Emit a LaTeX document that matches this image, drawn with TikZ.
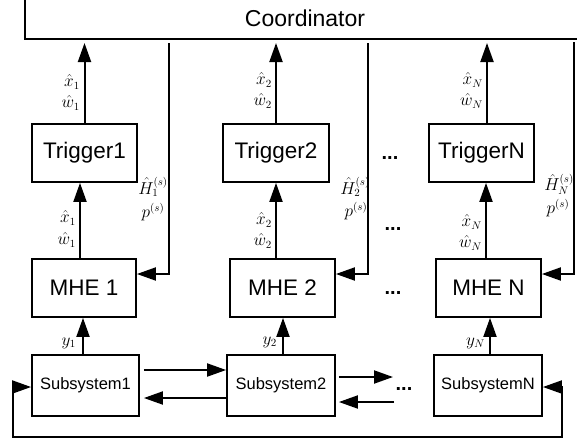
\documentclass[tikz,border=0pt]{standalone}
\usepackage{fontspec}
\setmainfont{Liberation Sans}
\usetikzlibrary{arrows.meta}
\begin{document}
\begin{tikzpicture}[x=1pt,y=-1pt,
  box/.style={draw, line width=1.8pt, inner sep=0pt, font=\fontsize{22.5}{27}\selectfont},
  trig/.style={box, minimum width=105pt, minimum height=58pt},
  mhe/.style={box, minimum width=105pt, minimum height=58pt},
  subbox/.style={box, minimum width=108pt, minimum height=61pt, font=\fontsize{16.5}{20}\selectfont},
  tip/.tip={Triangle[length=19pt,width=13pt]},
  arr/.style={line width=2pt, -tip},
  ln/.style={line width=2pt},
  lab/.style={font=\fontsize{16}{20}\selectfont, inner sep=0pt},
  dotsn/.style={font=\fontsize{20}{24}\selectfont\bfseries, inner sep=0pt}]
\useasboundingbox (0,0) rectangle (577,442);
\clip (0,0) rectangle (577,442);

% coordinator
\node[box, minimum width=560pt, minimum height=42pt, font=\fontsize{23}{28}\selectfont] (coord) at (305,18) {Coordinator};
\coordinate (cb) at (0,43);

% triggers
\node[trig] (t1) at (84.5,153) {Trigger1};
\node[trig, minimum width=106pt] (t2) at (276,153) {Trigger2};
\node[trig] (tN) at (481.5,153) {TriggerN};

% MHE
\node[mhe, minimum width=104pt] (m1) at (84,288) {MHE 1};
\node[mhe] (m2) at (282.5,288) {MHE 2};
\node[mhe] (mN) at (488.5,288) {MHE N};

% subsystems
\node[subbox, minimum width=107pt] (s1) at (85.5,385.5) {Subsystem1};
\node[subbox] (s2) at (281,385.5) {Subsystem2};
\node[subbox] (sN) at (488,385.5) {SubsystemN};

% trigger -> coordinator
\draw[arr] (t1.north) -- (t1.north |- cb);
\draw[arr] (t2.north) -- (t2.north |- cb);
\draw[arr] ([xshift=5.5pt]tN.north) -- ([xshift=5.5pt]tN.north |- cb);

% MHE -> trigger
\draw[arr] ([xshift=-4pt]m1.north) -- ([xshift=-4pt]m1.north |- t1.south);
\draw[arr] ([xshift=-6.5pt]m2.north) -- ([xshift=-6.5pt]m2.north |- t2.south);
\draw[arr] ([xshift=-2.5pt]mN.north) -- ([xshift=-2.5pt]mN.north |- tN.south);

% subsystem -> MHE
\draw[arr] ([xshift=-2.5pt]s1.north) -- ([xshift=-2.5pt]s1.north |- m1.south);
\draw[arr] ([xshift=2pt]s2.north) -- ([xshift=2pt]s2.north |- m2.south);
\draw[arr] ([xshift=2pt]sN.north) -- ([xshift=2pt]sN.north |- mN.south);

% coordinator feedback
\coordinate (f1) at (169,43);
\coordinate (f2) at (368,43);
\coordinate (fN) at (574,42);
\draw[arr] (f1) |- ([yshift=14pt]m1.east);
\draw[arr] (f2) |- ([yshift=14pt]m2.east);
\draw[arr] (fN) |- ([yshift=14pt]mN.east);

% subsystem interconnections
\draw[arr] ([shift={(4pt,15.5pt)}]s1.east) -- ([yshift=15.5pt]s2.west);
\draw[arr] ([yshift=-12.5pt]s2.west) -- ([shift={(4pt,-12.5pt)}]s1.east);
\coordinate (d1) at (393,377);
\coordinate (d2) at (394,402);
\draw[arr] ([shift={(3pt,8.5pt)}]s2.east) -- (d1);
\draw[arr] (d2) -- ([shift={(3pt,-16.5pt)}]s2.east);

% bottom loop
\coordinate (bl) at (13,437);
\coordinate (br) at (562,437);
\draw[ln, tip-tip] ([yshift=-1.5pt]s1.west) -| (bl) -- (br) |- ([yshift=-1.5pt]sN.east);

% labels (upper)
\node[lab, anchor=east] (lx1) at (80,82) {$\hat{x}_1$};
\node[lab, anchor=east] (lw1) at (80,103) {$\hat{w}_1$};
\node[lab, anchor=east] (lx2) at (272,80) {$\hat{x}_2$};
\node[lab, anchor=east] (lw2) at (272,101) {$\hat{w}_2$};
\node[lab, anchor=east] (lxN) at (483,80) {$\hat{x}_N$};
\node[lab, anchor=east] (lwN) at (483,101) {$\hat{w}_N$};
% labels (middle)
\node[lab, anchor=east] (mx1) at (76,218) {$\hat{x}_1$};
\node[lab, anchor=east] (mw1) at (76,240) {$\hat{w}_1$};
\node[lab, anchor=east] (mx2) at (272,220) {$\hat{x}_2$};
\node[lab, anchor=east] (mw2) at (272,241) {$\hat{w}_2$};
\node[lab, anchor=east] (mxN) at (482,222) {$\hat{x}_N$};
\node[lab, anchor=east] (mwN) at (482,243) {$\hat{w}_N$};
% measurement labels
\node[lab, anchor=east] (ly1) at (76,343) {$y_1$};
\node[lab, anchor=east] (ly2) at (277,342) {$y_2$};
\node[lab, anchor=east] (lyN) at (485,343) {$y_N$};
% feedback labels
\node[lab] (lh1) at (153,187) {$\hat{H}_1^{(s)}$};
\node[lab] (lp1) at (153,212) {$p^{(s)}$};
\node[lab] (lh2) at (355,187) {$\hat{H}_2^{(s)}$};
\node[lab] (lp2) at (356,211) {$p^{(s)}$};
\node[lab] (lhN) at (559,184) {$\hat{H}_N^{(s)}$};
\node[lab] (lpN) at (558,208) {$p^{(s)}$};

% dots
\node[dotsn] (dt) at (390,158) {...};
\node[dotsn] (dm) at (393,229) {...};
\node[dotsn] (dmm) at (393,293) {...};
\node[dotsn] (ds) at (404,389) {...};
\end{tikzpicture}
\end{document}
